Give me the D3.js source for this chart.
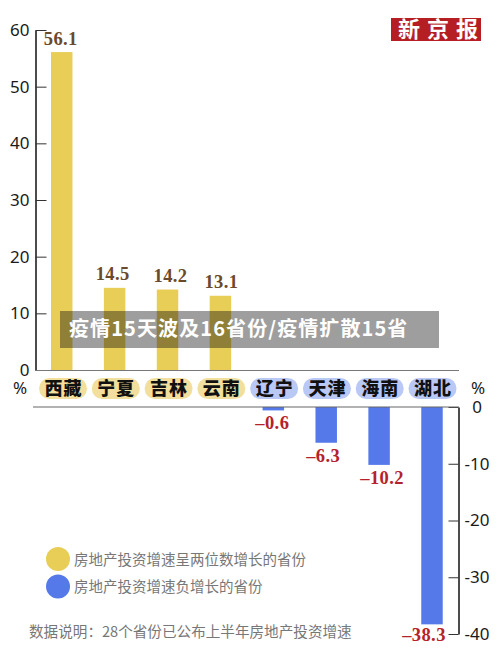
<!DOCTYPE html>
<html lang="zh"><head><meta charset="utf-8">
<script src="https://cdn.jsdelivr.net/npm/d3@7/dist/d3.min.js"></script>
<style>html,body{margin:0;padding:0;background:#fff}svg{display:block}</style></head>
<body><svg id="c" width="500" height="659"></svg>
<script>
const positiveCategories = ["西藏","宁夏","吉林","云南"];
const positiveValues = [56.1,14.5,14.2,13.1];
const negativeCategories = ["辽宁","天津","海南","湖北"];
const negativeValues = [-0.6,-6.3,-10.2,-38.3];
const topTicks = [0,10,20,30,40,50,60];
const bottomTicks = [0,-10,-20,-30,-40];
const legendLabels = ["房地产投资增速呈两位数增长的省份","房地产投资增速负增长的省份"];
const note = "数据说明：28个省份已公布上半年房地产投资增速";
const overlayTitle = "疫情15天波及16省份/疫情扩散15省";
const logoText = "新京报";

const cjk = '"Noto Sans CJK SC","Noto Sans",sans-serif';
const svg = d3.select("#c");
const all = positiveCategories.concat(negativeCategories);
const x = d3.scaleBand().domain(all).range([35.13,458.6]).paddingInner(0.594).paddingOuter(0.3);
const pill = d3.scalePoint().domain(all).range([63,432.5]);
const yTop = d3.scaleLinear().domain([0,60]).range([370,30]);
const yBot = d3.scaleLinear().domain([0,-40]).range([407,634]);
const gold="#e8cd57", blue="#5679ea";
const fmt = v => (v<0?"–":"")+Math.abs(v).toFixed(1);

// logo
svg.append("rect").attr("x",391).attr("y",18).attr("width",90).attr("height",23).attr("fill","#b51f24");
svg.append("text").attr("x",398).attr("y",37).attr("fill","#fff")
  .attr("font-family",cjk).attr("font-weight",700).attr("font-size",22).attr("letter-spacing",7).text(logoText);

// bars
svg.selectAll(".p").data(positiveValues).join("rect").attr("x",(d,i)=>x(positiveCategories[i]))
  .attr("width",x.bandwidth()).attr("y",d=>yTop(d)).attr("height",d=>yTop(0)-yTop(d)).attr("fill",gold);
svg.selectAll(".n").data(negativeValues).join("rect").attr("x",(d,i)=>x(negativeCategories[i]))
  .attr("width",x.bandwidth()).attr("y",yBot(0)).attr("height",d=>yBot(d)-yBot(0)).attr("fill",blue);

// value labels
const serif='"Liberation Serif","DejaVu Serif",serif';
const posShift=[-1,-2,3,1], negShift=[-1,-3,3,-8];
svg.selectAll(".pl").data(positiveValues).join("text").attr("x",(d,i)=>x(positiveCategories[i])+x.bandwidth()/2+posShift[i])
  .attr("y",d=>yTop(d)-7.5).attr("text-anchor","middle").attr("font-family",serif).attr("font-weight",700)
  .attr("font-size",18.5).attr("letter-spacing",0.4).attr("fill","#6b4a2b").text(fmt);
svg.selectAll(".nl").data(negativeValues).join("text").attr("x",(d,i)=>x(negativeCategories[i])+x.bandwidth()/2+negShift[i])
  .attr("y",d=>Math.min(yBot(d)+19,641)).attr("text-anchor","middle").attr("font-family",serif).attr("font-weight",700)
  .attr("font-size",18.5).attr("letter-spacing",0.4).attr("fill","#b5222a").text(fmt);

// axes
function style(g,anchor,xp){
  g.selectAll("text").attr("font-family",'"Noto Sans",sans-serif').attr("font-size",17).attr("fill","#1a1a1a")
    .attr("text-anchor",anchor).attr("x",xp);
  g.selectAll(".tick line").attr("stroke","#333").attr("stroke-width",1);
  g.select(".domain").attr("stroke","#111").attr("stroke-width",1.5);
}
const gl = svg.append("g").attr("transform","translate(35.5,0)")
  .call(d3.axisLeft(yTop).tickValues(topTicks).tickFormat(d3.format("d")).tickSizeInner(-11).tickSizeOuter(0));
style(gl,"end",-6);
const gr = svg.append("g").attr("transform","translate(458.5,0)")
  .call(d3.axisRight(yBot).tickValues(bottomTicks).tickFormat(d=>String(d)).tickSizeInner(-10).tickSizeOuter(0));
style(gr,"middle",18.5);

svg.append("line").attr("x1",35).attr("x2",459).attr("y1",370.5).attr("y2",370.5).attr("stroke","#777").attr("stroke-width",1.2);
svg.append("line").attr("x1",33).attr("x2",459).attr("y1",407).attr("y2",407).attr("stroke","#666").attr("stroke-width",1.2);

// percent signs
[[20,394],[478,394]].forEach(p=>svg.append("text").attr("x",p[0]).attr("y",p[1]).attr("text-anchor","middle")
  .attr("font-family",'"Noto Sans",sans-serif').attr("font-size",17).attr("fill","#1a1a1a").text("%"));

// category pills
all.forEach((c,i)=>{
  const cx=pill(c);
  svg.append("rect").attr("x",cx-24).attr("y",378).attr("width",48).attr("height",21).attr("rx",10.5)
    .attr("fill",i<4?"#f2df9e":"#b9c8f5");
  svg.append("text").attr("x",cx+.5).attr("y",394.5).attr("text-anchor","middle").attr("font-family",cjk)
    .attr("font-weight",900).attr("font-size",18).attr("letter-spacing",1).attr("fill","#111").text(c);
});

// legend
legendLabels.forEach((t,i)=>{
  const cy=559+i*27.5;
  svg.append("circle").attr("cx",58).attr("cy",cy).attr("r",12).attr("fill",i?blue:gold);
  svg.append("text").attr("x",74).attr("y",cy+5.5).attr("font-family",cjk).attr("font-size",14.5).attr("fill","#777").text(t);
});
svg.append("text").attr("x",29).attr("y",637).attr("font-family",cjk).attr("font-size",14.6).attr("fill","#777").text(note);

// overlay
svg.append("rect").attr("x",60).attr("y",311).attr("width",379).attr("height",37).attr("fill","#000").attr("fill-opacity",0.38);
svg.append("text").attr("x",69).attr("y",336).attr("font-family",cjk).attr("font-weight",700).attr("font-size",20)
  .attr("letter-spacing",1.1).attr("fill","#fff").text(overlayTitle);
</script></body></html>
